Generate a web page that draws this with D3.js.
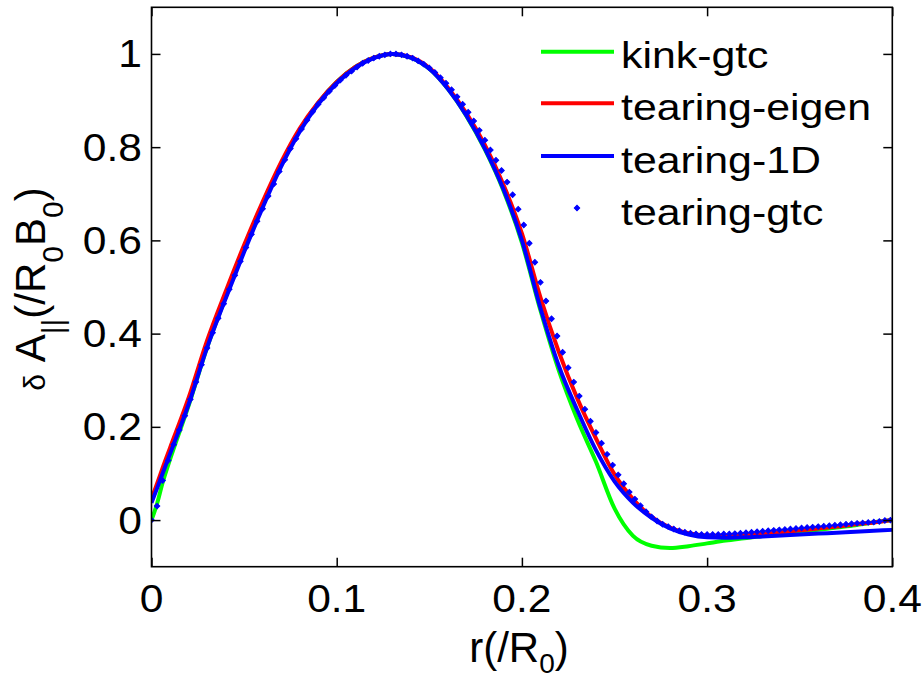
<!DOCTYPE html>
<html>
<head>
<meta charset="utf-8">
<script src="https://cdn.jsdelivr.net/npm/d3@7"></script>
<style>
  html, body { margin: 0; padding: 0; background: #fff; }
  svg { display: block; font-family: "Liberation Sans", Arial, sans-serif; }
</style>
</head>
<body>
<svg id="chart" width="923" height="678"></svg>
<script>
// ---------------- data ----------------
const seriesNames = ["kink-gtc", "tearing-eigen", "tearing-1D", "tearing-gtc"];
const seriesColors = ["#00ff00", "#ff0000", "#0000ff", "#0000ff"];

const rLine = [0, 0.003, 0.006, 0.01, 0.02, 0.03, 0.04, 0.05, 0.06, 0.07, 0.08, 0.09, 0.10,
  0.11, 0.12, 0.13, 0.14, 0.15, 0.16, 0.17, 0.18, 0.19, 0.20,
  0.21, 0.22, 0.23, 0.24, 0.25, 0.26, 0.27, 0.28, 0.29, 0.30,
  0.31, 0.32, 0.33, 0.34, 0.35, 0.36, 0.37, 0.38, 0.39, 0.40];

const kinkGtc = [0.0, 0.035, 0.08, 0.13, 0.245, 0.37, 0.478, 0.58, 0.675, 0.762, 0.837, 0.895, 0.94,
  0.972, 0.992, 1.0, 0.992, 0.968, 0.925, 0.867, 0.795, 0.707, 0.595,
  0.45, 0.32, 0.215, 0.125, 0.025, -0.034, -0.055, -0.06, -0.056, -0.05,
  -0.044, -0.039, -0.034, -0.03, -0.026, -0.021, -0.016, -0.011, -0.005, 0.0];

const tearingEigen = [0.045, 0.078, 0.112, 0.155, 0.262, 0.385, 0.49, 0.59, 0.683, 0.768, 0.84, 0.896, 0.94,
  0.972, 0.992, 1.0, 0.993, 0.97, 0.928, 0.873, 0.805, 0.72, 0.615,
  0.478, 0.36, 0.26, 0.175, 0.098, 0.045, 0.007, -0.016, -0.028, -0.033,
  -0.034, -0.032, -0.029, -0.026, -0.022, -0.018, -0.014, -0.009, -0.005, 0.0];

const tearing1D = [0.037, 0.068, 0.10, 0.142, 0.248, 0.37, 0.475, 0.575, 0.67, 0.758, 0.833, 0.892, 0.937,
  0.97, 0.991, 1.0, 0.992, 0.968, 0.925, 0.868, 0.797, 0.71, 0.60,
  0.455, 0.33, 0.235, 0.15, 0.083, 0.037, 0.005, -0.018, -0.031, -0.037,
  -0.038, -0.037, -0.035, -0.033, -0.031, -0.029, -0.027, -0.025, -0.023, -0.021];

const rDots = [0.000, 0.003, 0.006, 0.009, 0.012, 0.015, 0.018, 0.021, 0.024, 0.027,
  0.030, 0.033, 0.036, 0.039, 0.042, 0.045, 0.048, 0.051, 0.054, 0.057,
  0.060, 0.063, 0.066, 0.069, 0.072, 0.075, 0.078, 0.081, 0.084, 0.087,
  0.090, 0.093, 0.096, 0.099, 0.102, 0.105, 0.108, 0.111, 0.114, 0.117,
  0.120, 0.123, 0.126, 0.129, 0.132, 0.135, 0.138, 0.141, 0.144, 0.147,
  0.150, 0.153, 0.156, 0.159, 0.162, 0.165, 0.168, 0.171, 0.174, 0.177,
  0.180, 0.183, 0.186, 0.189, 0.192, 0.195, 0.198, 0.201, 0.204, 0.207,
  0.210, 0.213, 0.216, 0.219, 0.222, 0.225, 0.228, 0.231, 0.234, 0.237,
  0.240, 0.243, 0.246, 0.249, 0.252, 0.255, 0.258, 0.261, 0.264, 0.267,
  0.270, 0.273, 0.276, 0.279, 0.282, 0.285, 0.288, 0.291, 0.294, 0.297,
  0.300, 0.303, 0.306, 0.309, 0.312, 0.315, 0.318, 0.321, 0.324, 0.327,
  0.330, 0.333, 0.336, 0.339, 0.342, 0.345, 0.348, 0.351, 0.354, 0.357,
  0.360, 0.363, 0.366, 0.369, 0.372, 0.375, 0.378, 0.381, 0.384, 0.387,
  0.390, 0.393, 0.396, 0.399];

const tearingGtc = [0.000, 0.030, 0.085, 0.128, 0.162, 0.193, 0.224, 0.259, 0.296, 0.333,
  0.369, 0.402, 0.433, 0.464, 0.495, 0.525, 0.555, 0.585, 0.613, 0.641,
  0.668, 0.695, 0.721, 0.748, 0.773, 0.797, 0.818, 0.839, 0.858, 0.876,
  0.892, 0.906, 0.920, 0.932, 0.944, 0.954, 0.963, 0.972, 0.980, 0.986,
  0.991, 0.995, 0.998, 1.000, 1.000, 0.998, 0.995, 0.991, 0.985, 0.978,
  0.970, 0.960, 0.949, 0.937, 0.923, 0.908, 0.892, 0.875, 0.856, 0.836,
  0.815, 0.794, 0.772, 0.750, 0.725, 0.698, 0.667, 0.633, 0.594, 0.553,
  0.510, 0.470, 0.432, 0.395, 0.360, 0.327, 0.296, 0.266, 0.238, 0.212,
  0.188, 0.165, 0.141, 0.118, 0.097, 0.078, 0.060, 0.045, 0.031, 0.018,
  0.007, -0.002, -0.009, -0.014, -0.019, -0.023, -0.026, -0.028, -0.030, -0.031,
  -0.031, -0.031, -0.031, -0.030, -0.030, -0.029, -0.028, -0.027, -0.026, -0.025,
  -0.024, -0.023, -0.022, -0.021, -0.020, -0.019, -0.018, -0.017, -0.016, -0.015,
  -0.014, -0.013, -0.012, -0.011, -0.010, -0.009, -0.008, -0.007, -0.006, -0.005,
  -0.004, -0.003, -0.001, 0.000];

const xTicks = [0, 0.1, 0.2, 0.3, 0.4];
const xTickLabels = ["0", "0.1", "0.2", "0.3", "0.4"];
const yTicks = [0, 0.2, 0.4, 0.6, 0.8, 1];
const yTickLabels = ["0", "0.2", "0.4", "0.6", "0.8", "1"];

// ---------------- layout ----------------
const svg = d3.select("#chart");
const L = 151.5, R = 892.3, T = 7.3, B = 566.7;
const x = d3.scaleLinear().domain([0, 0.4]).range([L, R]);
const y = d3.scaleLinear().domain([-0.1, 1.1]).range([B, T]);

const tickFont = 38, tickSX = 1.12;
const legFont = 36, legSX = 1.19;
const labFont = 42;

function scaledText(g, tx, ty, str, size, sx, anchor) {
  const gg = g.append("g").attr("transform", `translate(${tx},${ty})`);
  gg.append("text")
    .attr("transform", `scale(${sx},1)`)
    .attr("text-anchor", anchor)
    .attr("font-size", size)
    .attr("fill", "#000")
    .text(str);
  return gg;
}

// clip
svg.append("clipPath").attr("id", "clip")
  .append("rect").attr("x", L).attr("y", T).attr("width", R - L).attr("height", B - T);

const plot = svg.append("g").attr("clip-path", "url(#clip)");

function lineData(vals) { return rLine.map((r, i) => [r, vals[i]]); }
const lineGen = d3.line().x(d => x(d[0])).y(d => y(d[1])).curve(d3.curveMonotoneX);

const lineSeries = [kinkGtc, tearingEigen, tearing1D];
lineSeries.forEach((vals, i) => {
  plot.append("path")
    .attr("d", lineGen(lineData(vals)))
    .attr("fill", "none")
    .attr("stroke", seriesColors[i])
    .attr("stroke-width", 4)
    .attr("stroke-linejoin", "round");
});

const diamond = d3.symbol().type(d3.symbolSquare).size(15)();
plot.append("g").selectAll("path")
  .data(rDots.map((r, i) => [r, tearingGtc[i]]))
  .join("path")
  .attr("d", diamond)
  .attr("transform", d => `translate(${x(d[0])},${y(d[1])}) rotate(45)`)
  .attr("fill", seriesColors[3])
  .attr("stroke", seriesColors[3])
  .attr("stroke-width", 1);

// ---------------- axes ----------------
const axG = svg.append("g");
const tickLen = 9;
const xAxB = d3.axisBottom(x).tickValues(xTicks).tickSize(-tickLen).tickFormat("");
const xAxT = d3.axisTop(x).tickValues(xTicks).tickSize(-tickLen).tickFormat("");
const yAxL = d3.axisLeft(y).tickValues(yTicks).tickSize(-tickLen).tickFormat("");
const yAxR = d3.axisRight(y).tickValues(yTicks).tickSize(-tickLen).tickFormat("");
[[xAxB, `translate(0,${B})`], [xAxT, `translate(0,${T})`], [yAxL, `translate(${L},0)`], [yAxR, `translate(${R},0)`]]
  .forEach(([ax, tr]) => {
    const g = axG.append("g").attr("transform", tr).call(ax);
    g.select(".domain").remove();
    g.selectAll(".tick line").attr("stroke", "#000").attr("stroke-width", 1.5);
  });
axG.append("rect").attr("x", L).attr("y", T).attr("width", R - L).attr("height", B - T)
  .attr("fill", "none").attr("stroke", "#000").attr("stroke-width", 1.6);

// tick labels
xTicks.forEach((v, i) => scaledText(svg, x(v), 612, xTickLabels[i], tickFont, tickSX, "middle"));
yTicks.forEach((v, i) => scaledText(svg, 142, y(v) + 13.5, yTickLabels[i], tickFont, tickSX, "end"));

// axis labels
const xl = svg.append("text")
  .attr("x", 519).attr("y", 662)
  .attr("text-anchor", "middle")
  .attr("font-size", labFont)
  .attr("fill", "#000");
xl.append("tspan").text("r(/R");
xl.append("tspan").attr("font-size", 28).attr("dy", 11).text("0");
xl.append("tspan").attr("dy", -11).text(")");

const yl = svg.append("text")
  .attr("transform", "translate(45,289) rotate(-90)")
  .attr("text-anchor", "middle")
  .attr("font-size", labFont)
  .attr("fill", "#000");
yl.append("tspan").attr("font-size", 30).text("δ");
yl.append("tspan").text(" A");
yl.append("tspan").attr("font-size", 30).attr("dy", 18).text("||");
yl.append("tspan").attr("dy", -18).text("(/R");
yl.append("tspan").attr("font-size", 30).attr("dy", 18).text("0");
yl.append("tspan").attr("dy", -18).text("B");
yl.append("tspan").attr("font-size", 30).attr("dy", 18).text("0");
yl.append("tspan").attr("dy", -18).text(")");

// ---------------- legend ----------------
const legY = [51.7, 103.3, 156, 208];
const leg = svg.append("g");
seriesNames.forEach((name, i) => {
  if (i < 3) {
    leg.append("line")
      .attr("x1", 541).attr("x2", 614)
      .attr("y1", legY[i]).attr("y2", legY[i])
      .attr("stroke", seriesColors[i]).attr("stroke-width", 4);
  } else {
    leg.append("path")
      .attr("d", diamond)
      .attr("transform", `translate(577,${legY[i]}) rotate(45)`)
      .attr("fill", seriesColors[i]).attr("stroke", seriesColors[i]).attr("stroke-width", 1);
  }
  scaledText(leg, 621, legY[i] + 16.5, name, legFont, legSX, "start");
});
</script>
</body>
</html>
